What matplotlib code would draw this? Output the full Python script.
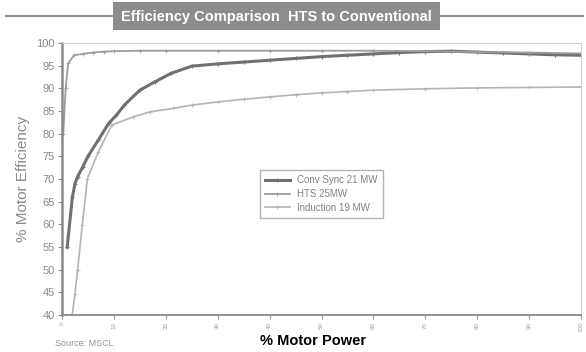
import matplotlib.pyplot as plt
import matplotlib.patches as patches

plt.rcParams['font.family'] = ['Liberation Sans', 'DejaVu Sans']

# % motor power vs % motor efficiency
conv_x = [1, 2, 2.5, 3, 4, 5, 7, 9, 10.5, 12, 15, 18, 21, 25, 30, 35, 40, 45, 50,
          55, 60, 65, 70, 75, 80, 85, 90, 95, 100]
conv_y = [55, 66, 69, 70.5, 72.7, 75, 78.6, 82.3, 84.1, 86.3, 89.6, 91.5, 93.3, 94.9,
          95.4, 95.8, 96.2, 96.6, 97.0, 97.3, 97.6, 97.9, 98.1, 98.2, 98.0, 97.8,
          97.6, 97.4, 97.3]

hts_x = [0.25, 0.7, 1.2, 2.3, 4, 6, 8, 10, 15, 20, 30, 40, 50, 60, 70, 80, 90, 100]
hts_y = [80, 90, 95.5, 97.3, 97.6, 97.9, 98.1, 98.2, 98.3, 98.3, 98.3, 98.3, 98.3,
         98.3, 98.2, 98.0, 97.9, 97.7]

ind_x = [2, 2.5, 3, 3.9, 4.9, 7, 9.6, 13.7, 16.9, 21.4, 25, 30, 35, 40, 45, 50, 55,
         60, 70, 80, 90, 100]
ind_y = [40.3, 44.7, 49.9, 59.8, 70.1, 76, 81.9, 83.7, 84.8, 85.6, 86.3, 87.0, 87.6,
         88.1, 88.6, 89.0, 89.3, 89.6, 89.9, 90.1, 90.2, 90.3]

fig = plt.figure(figsize=(5.86, 3.52), dpi=100)
ax = fig.add_axes([0.1058, 0.1051, 0.8857, 0.7727])

ax.plot(conv_x, conv_y, color='#707070', lw=2.2, marker='+', ms=3, mew=0.8,
        label='Conv Sync 21 MW')
ax.plot(hts_x, hts_y, color='#9c9c9c', lw=1.3, marker='+', ms=3, mew=0.6,
        label='HTS 25MW')
ax.plot(ind_x, ind_y, color='#b4b4b4', lw=1.2, marker='+', ms=3, mew=0.6,
        label='Induction 19 MW')

ax.set_xlim(0, 100)
ax.set_ylim(40, 100)
ax.set_yticks(range(40, 101, 5))
ax.set_xticks(range(0, 101, 10))
ax.set_xticklabels([str(v) for v in range(0, 101, 10)], rotation=90,
                   fontsize=4.5, color='#b8b8b8')
ax.tick_params(axis='y', labelsize=8, colors='#8a8a8a', length=3, pad=2)
ax.tick_params(axis='x', length=3, colors='#a0a0a0', pad=2)

ax.spines['left'].set_color('#8a8a8a')
ax.spines['left'].set_linewidth(1.8)
ax.spines['bottom'].set_color('#909090')
ax.spines['bottom'].set_linewidth(1.4)
ax.spines['top'].set_color('#d0d0d0')
ax.spines['right'].set_color('#d0d0d0')

ax.set_ylabel('% Motor Efficiency', fontsize=11, color='#8a8a8a', labelpad=5)
fig.text(0.534, 0.03, '% Motor Power', ha='center', va='center', fontsize=10.5,
         fontweight='bold', color='black')

leg = ax.legend(loc='center', bbox_to_anchor=(0.5, 0.445), fontsize=7,
                frameon=True, fancybox=False, handlelength=2.5, borderpad=0.5,
                labelspacing=0.4)
leg.get_frame().set_edgecolor('#a0a0a0')
leg.get_frame().set_linewidth(1.0)
for t in leg.get_texts():
    t.set_color('#808080')

# title banner with rule line behind it
fig.add_artist(plt.Line2D([0.01, 0.995], [0.955, 0.955], color='#909090', lw=1.5))
fig.add_artist(patches.Rectangle((0.193, 0.915), 0.558, 0.08, transform=fig.transFigure,
                                 facecolor='#8c8c8c', edgecolor='none'))
fig.text(0.472, 0.953, 'Efficiency Comparison  HTS to Conventional', ha='center',
         va='center', fontsize=10.5, fontweight='bold', color='white')

fig.text(0.094, 0.025, 'Source: MSCL', fontsize=6.5, color='#909090', va='center')

fig.savefig('out.png', dpi=100)
